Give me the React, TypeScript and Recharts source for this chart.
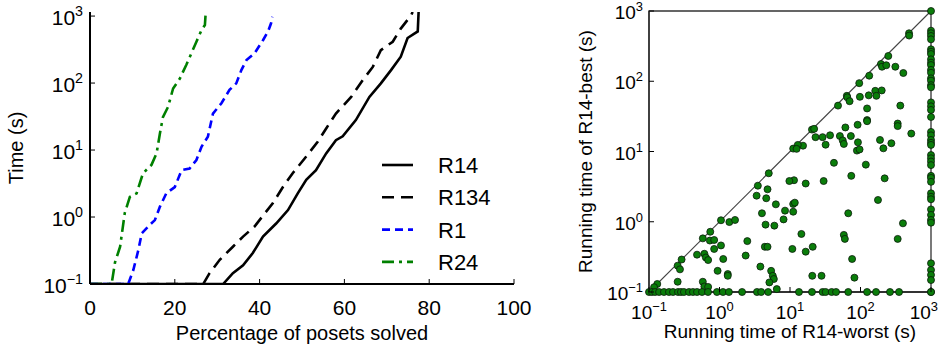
import React from "react";
import {
  LineChart,
  Line,
  XAxis,
  YAxis,
  ScatterChart,
  Scatter,
  ReferenceLine,
  ReferenceArea,
  Legend,
} from "recharts";

const FONT = "'Liberation Sans', Arial, Helvetica, sans-serif";

// ---- left panel: time needed vs percentage of posets solved ----
const r14Pct = [0, 31.4, 33.7, 36.1, 38.4, 40.8, 43.9, 46.7, 49, 51, 53.3, 55.7, 58, 59.6, 62.7, 65.9, 68.6, 71, 73.3, 74.9, 77.3, 77.5];
const r14Time = [0.1, 0.1, 0.145, 0.19, 0.29, 0.51, 0.8, 1.27, 2.26, 3.6, 5, 8.9, 14, 16, 28, 62, 99, 156, 247, 470, 590, 1150];

const r134Pct = [0, 26.7, 28.2, 30.6, 33.7, 36.1, 38.8, 41.2, 43.1, 45.5, 47.8, 51, 53.7, 55.7, 58, 61.6, 64.3, 66.7, 68.6, 71.4, 73.3, 75.7, 76.1];
const r134Time = [0.1, 0.1, 0.145, 0.23, 0.36, 0.51, 0.72, 1.13, 1.6, 2.8, 4.5, 8, 13.3, 21, 35, 62, 110, 174, 310, 414, 650, 1020, 1150];

const r1Pct = [0, 9.0, 10.2, 11.4, 12.2, 13.7, 15.3, 16.5, 18.0, 20.0, 21.6, 23.5, 25.1, 26.3, 27.8, 29.0, 31, 32.9, 34.5, 35.7, 36.9, 38.8, 40.8, 42, 42.7, 43];
const r1Time = [0.1, 0.1, 0.16, 0.32, 0.57, 0.72, 0.9, 1.43, 2.26, 2.8, 5, 5.3, 7.1, 11.2, 15.8, 35, 50, 79, 99, 156, 220, 277, 436, 590, 780, 980];

const r24Pct = [0, 5.1, 5.9, 7.1, 8.2, 9.4, 11, 12.5, 14.5, 15.7, 16.5, 17.2, 18.4, 19.6, 21.2, 22.7, 23.9, 25.1, 26.3, 27.1, 27.3];
const r24Time = [0.1, 0.1, 0.21, 0.36, 1.15, 2.0, 2.26, 4.5, 6, 8.9, 17.8, 31, 44, 83, 117, 186, 277, 414, 617, 735, 1150];

const pctTicks = [0, 20, 40, 60, 80, 100];
const logTicks = [0.1, 1, 10, 100, 1000];
const logExps = ["\u22121", "0", "1", "2", "3"];

// ---- right panel: R14-worst vs R14-best ----
const worstTimes = [
  488, 490, 248, 195, 202, 232, 312, 405, 133, 96, 64, 65, 70, 98, 131, 162, 168, 200, 48, 124, 367, 124, 124, 337, 337, 525,
  91, 61, 20.5, 22, 23, 29, 37, 51, 56, 58, 73, 32, 92, 89, 97, 189, 211, 274, 15.3, 12.9, 11.1, 12.4, 42, 119, 5.0, 74, 220,
  11.4, 9.8, 30,
  0.131, 0.118, 0.255, 0.255, 0.275, 0.29, 0.48, 0.58, 0.61, 0.64, 0.69, 0.74, 0.73, 0.84, 0.84, 1.05, 1.05, 1.13, 1.38, 1.66,
  0.94, 1.31, 1.31, 0.58, 0.61, 0.69, 2.35, 2.48, 3.8, 4.0, 4.5, 4.4, 4.8, 4.6, 4.8, 3.5, 3.36, 6.0, 6.3, 5.4, 5.7, 5.9, 5.1, 6.5,
  16.7, 11.1, 11.1, 11.7, 8.1, 8.5, 10.8, 14.5, 16.7, 21, 20.7, 28, 67, 58, 60, 76, 82, 177, 400, 337,
];
const bestTimes = [
  482, 447, 229, 176, 161, 169, 161, 131, 120, 94, 62, 59, 52, 60, 63, 73, 62, 74, 45, 41, 45, 28, 27, 25, 23, 18,
  24, 22, 20.5, 21, 16, 16, 17, 16.6, 14.4, 12.8, 16.6, 12.5, 13.5, 10.3, 10.7, 14.6, 11.1, 13.1, 12.1, 12.4, 11, 10.9, 6.9, 6.5, 4.9, 4.5, 4.15,
  3.9, 3.8, 3.8,
  0.13, 0.117, 0.14, 0.237, 0.21, 0.29, 0.34, 0.58, 0.35, 0.31, 0.285, 0.72, 0.54, 0.55, 0.41, 1.05, 0.46, 0.295, 0.99, 1.06,
  0.2, 0.18, 0.17, 0.14, 0.12, 0.118, 0.33, 0.53, 0.23, 1.32, 0.91, 0.44, 0.44, 2.16, 2.9, 3.26, 2.35, 0.88, 1.77, 0.2, 0.17, 0.153, 0.137, 0.11,
  3.5, 1.39, 1.79, 1.87, 1.08, 1.44, 0.41, 0.67, 0.375, 0.44, 0.17, 0.17, 1.32, 0.65, 0.57, 0.295, 0.16, 2.04, 0.95, 0.57,
];
// best run hit the 0.1 s floor
const floorWorst = [
  0.1, 0.11, 0.122, 0.139, 0.163, 0.192, 0.219, 0.258, 0.284, 0.313, 0.369, 0.42, 0.48, 0.565, 0.687, 0.92, 1.12, 1.36, 2.09,
  3.4, 3.9, 4.9, 13.4, 20.5, 29, 32, 39, 45, 67, 124, 166, 262, 352, 1000,
];
// worst run hit the 1000 s timeout
const timeoutBest = [
  1000, 525, 482, 441, 395, 285, 263, 244, 205, 184, 170, 145, 132, 110, 102, 88, 82, 50, 44, 39, 31, 19, 17, 14.6, 13.3, 12.4,
  8.9, 8.0, 7.2, 6.4, 4.5, 4.2, 3.7, 2.54, 2.27, 2.09, 1.5, 1.25, 1.06, 0.97, 0.256, 0.206, 0.175, 0.148, 0.1,
];

const series = [
  { name: "R14", pct: r14Pct, time: r14Time, color: "#000000", dash: undefined as string | undefined },
  { name: "R134", pct: r134Pct, time: r134Time, color: "#000000", dash: "12 7" },
  { name: "R1", pct: r1Pct, time: r1Time, color: "#0000ff", dash: "8 5" },
  { name: "R24", pct: r24Pct, time: r24Time, color: "#008000", dash: "12 5 3 5" },
];

const scatterPoints = [
  ...worstTimes.map((w, i) => ({ x: w, y: bestTimes[i] })),
  ...floorWorst.map((w) => ({ x: w, y: 0.1 })),
  ...timeoutBest.map((b) => ({ x: 1000, y: b })),
];

function Pow({ x, y, exp, anchor, size }: any) {
  return (
    <text x={x} y={y} textAnchor={anchor} fontSize={size} fontFamily={FONT} fill="#000">
      10
      <tspan dy={-size * 0.42} fontSize={size * 0.68}>
        {exp}
      </tspan>
    </text>
  );
}

function LogYTick(props: any) {
  const { x, y, payload, size, gap, dy } = props;
  const exp = logExps[logTicks.indexOf(payload.value)];
  return (
    <g>
      <line x1={x} x2={x + 5} y1={y} y2={y} stroke="#000" strokeWidth={1} />
      <Pow x={x - gap} y={y + dy} exp={exp} anchor="end" size={size} />
    </g>
  );
}

function LogXTick(props: any) {
  const { x, y, payload, size, dy, index } = props;
  const exp = logExps[logTicks.indexOf(payload.value)];
  const last = index === logTicks.length - 1;
  return (
    <g>
      <line x1={x} x2={x} y1={y} y2={y - 5} stroke="#000" strokeWidth={1} />
      <Pow x={last ? x + 7 : x} y={y + dy} exp={exp} anchor={last ? "end" : "middle"} size={size} />
    </g>
  );
}

function PctTick(props: any) {
  const { x, y, payload } = props;
  return (
    <g>
      <line x1={x} x2={x} y1={y} y2={y - 5} stroke="#000" strokeWidth={1} />
      <text x={x} y={y + 31} textAnchor="middle" fontSize={21} fontFamily={FONT} fill="#000">
        {payload.value}
      </text>
    </g>
  );
}

function LegendBox() {
  return (
    <svg width={140} height={135}>
      {series.map((s, i) => {
        const cy = 20 + i * 32.3;
        return (
          <g key={s.name}>
            <line x1={7} x2={38} y1={cy} y2={cy} stroke={s.color} strokeWidth={2.6} strokeDasharray={s.dash} />
            <text x={63} y={cy + 8} fontSize={22} fontFamily={FONT} fill="#000">
              {s.name}
            </text>
          </g>
        );
      })}
    </svg>
  );
}

function Dot(props: any) {
  const { cx, cy } = props;
  return <circle cx={cx} cy={cy} r={3.5} fill="#0a7d0a" stroke="#0b1a0b" strokeWidth={0.8} />;
}

export default function App() {
  return (
    <div style={{ position: "absolute", left: 0, top: 0, width: 943, height: 346, background: "#fff", fontFamily: FONT }}>
      <div style={{ position: "absolute", left: 0, top: 0 }}>
        <LineChart width={556} height={346} margin={{ top: 12, right: 42, bottom: 0, left: 0 }}>
          <XAxis
            dataKey="x"
            type="number"
            domain={[0, 100]}
            ticks={pctTicks}
            interval={0}
            tickSize={0}
            tickMargin={0}
            tickLine={false}
            tick={<PctTick />}
            height={62}
            axisLine={{ stroke: "#000", strokeWidth: 2 }}
            label={{ value: "Percentage of posets solved", position: "insideBottom", offset: 6, fontSize: 20, fill: "#000" }}
          />
          <YAxis
            type="number"
            scale="log"
            domain={[0.1, 1150]}
            allowDataOverflow
            ticks={logTicks}
            interval={0}
            tickSize={0}
            tickMargin={0}
            tickLine={false}
            tick={<LogYTick size={21} gap={7} dy={9} />}
            width={90}
            axisLine={{ stroke: "#000", strokeWidth: 2 }}
            label={{ value: "Time (s)", angle: -90, position: "insideLeft", offset: 16, fontSize: 20, fill: "#000", style: { textAnchor: "middle" } }}
          />
          {series.map((s) => (
            <Line
              key={s.name}
              name={s.name}
              data={s.pct.map((p, i) => ({ x: p, y: s.time[i] }))}
              dataKey="y"
              type="linear"
              stroke={s.color}
              strokeWidth={2.6}
              strokeDasharray={s.dash}
              dot={false}
              isAnimationActive={false}
            />
          ))}
          <Legend
            layout="vertical"
            align="center"
            verticalAlign="middle"
            content={() => <LegendBox />}
            wrapperStyle={{ position: "absolute", left: 375, top: 145, width: 140, height: 135 }}
          />
        </LineChart>
      </div>
      <div style={{ position: "absolute", left: 560, top: 0 }}>
        <ScatterChart width={383} height={346} margin={{ top: 11, right: 12, bottom: 0, left: 0 }}>
          <XAxis
            dataKey="x"
            type="number"
            scale="log"
            domain={[0.1, 1000]}
            ticks={logTicks}
            interval={0}
            tickSize={0}
            tickMargin={0}
            tickLine={false}
            tick={<LogXTick size={19} dy={27} />}
            height={54}
            axisLine={{ stroke: "#222", strokeWidth: 1.3 }}
            label={{ value: "Running time of R14-worst (s)", position: "insideBottom", offset: 8, fontSize: 19, fill: "#000" }}
          />
          <YAxis
            dataKey="y"
            type="number"
            scale="log"
            domain={[0.1, 1000]}
            ticks={logTicks}
            interval={0}
            tickSize={0}
            tickMargin={0}
            tickLine={false}
            tick={<LogYTick size={19} gap={6} dy={8} />}
            width={89}
            axisLine={{ stroke: "#222", strokeWidth: 1.3 }}
            label={{ value: "Running time of R14-best (s)", angle: -90, position: "insideLeft", offset: 25, fontSize: 19, fill: "#000", style: { textAnchor: "middle" } }}
          />
          <ReferenceArea x1={0.1} x2={1000} y1={0.1} y2={1000} fill="none" fillOpacity={0} stroke="#333" strokeWidth={1.3} />
          <ReferenceLine
            segment={[
              { x: 0.1, y: 0.1 },
              { x: 1000, y: 1000 },
            ]}
            stroke="#444"
            strokeWidth={1.1}
          />
          <Scatter data={scatterPoints} shape={<Dot />} isAnimationActive={false} />
        </ScatterChart>
      </div>
    </div>
  );
}
